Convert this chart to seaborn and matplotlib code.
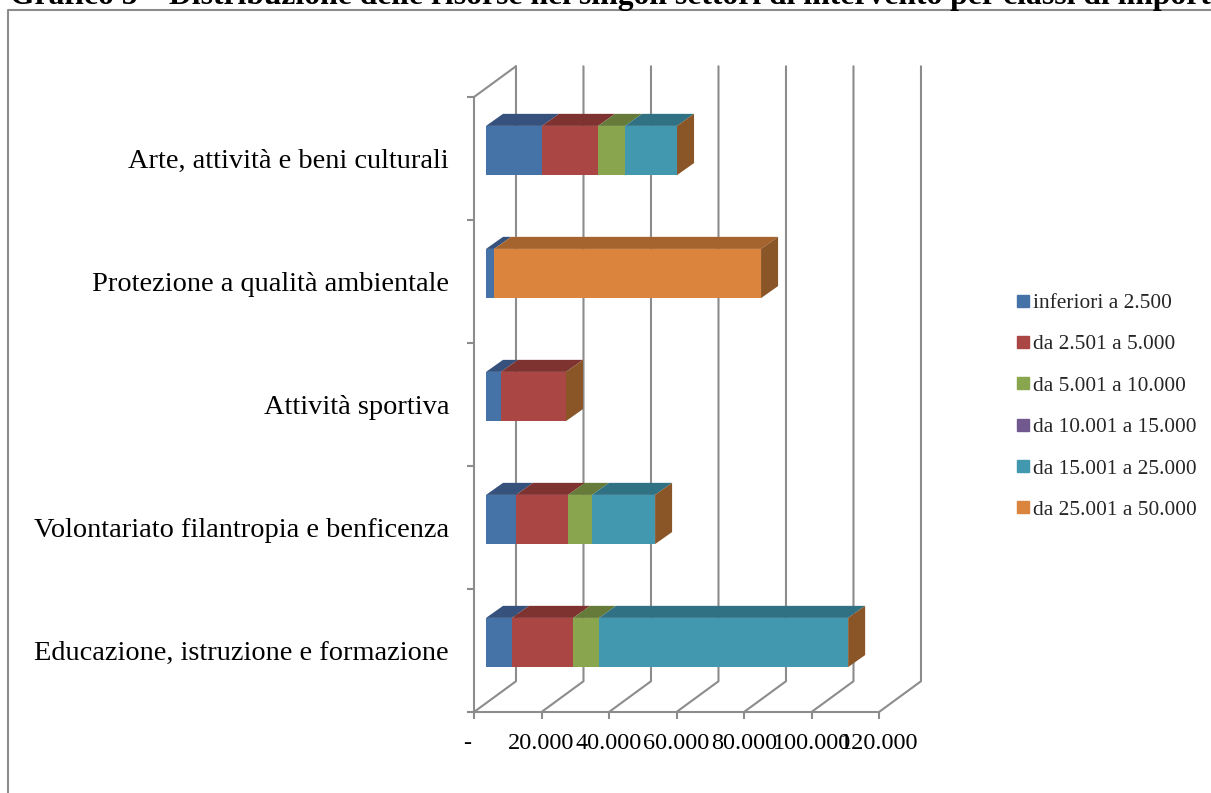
import matplotlib
matplotlib.use("Agg")
import matplotlib.pyplot as plt
from matplotlib.lines import Line2D
from matplotlib.transforms import Affine2D, ScaledTranslation
import seaborn as sns
import numpy as np
import pandas as pd

# values, in chart order from top to bottom
categories = ["Arte, attività e beni culturali", "Protezione a qualità ambientale", "Attività sportiva",
              "Volontariato filantropia e benficenza", "Educazione, istruzione e formazione"]
inferiori_2500 = [16600, 2400, 4400, 8900, 7700]
da_2501_5000 = [16600, 0, 19300, 15400, 18100]
da_5001_10000 = [8000, 0, 0, 7100, 7700]
da_10001_15000 = [0, 0, 0, 0, 0]
da_15001_25000 = [15400, 0, 0, 18700, 73800]
da_25001_50000 = [0, 79100, 0, 0, 0]

series_names = ["inferiori a 2.500", "da 2.501 a 5.000", "da 5.001 a 10.000",
                "da 10.001 a 15.000", "da 15.001 a 25.000", "da 25.001 a 50.000"]
x_ticks = [0, 20000, 40000, 60000, 80000, 100000, 120000]
x_labels = ["-", "20.000", "40.000", "60.000", "80.000", "100.000", "120.000"]

colors = ["#4572a7", "#aa4643", "#89a54e", "#71588f", "#4198af", "#db843d"]
top_colors = ["#36527c", "#7f3331", "#667a3a", "#53406b", "#307283", "#a5632e"]
side_color = "#8a5527"
grid_color = "#8c8c8c"

W, H = 1211, 793
sns.set_theme(style="white")
plt.rcParams["font.family"] = ["Liberation Serif", "DejaVu Serif"]

fig = plt.figure(figsize=(W / 100, H / 100), dpi=100)
ax = fig.add_axes([474 / W, 1 - 712 / H, (879 - 474) / W, (712 - 97) / H])

df = pd.DataFrame(np.array([inferiori_2500, da_2501_5000, da_5001_10000, da_10001_15000,
                            da_15001_25000, da_25001_50000]).T, index=categories, columns=series_names)
cum = df.cumsum(axis=1)

# stacked by overdrawing the running totals, longest first
for name, c in list(zip(series_names, colors))[::-1]:
    sns.barplot(x=cum[name].values, y=categories, color=c, width=0.4, saturation=1, ax=ax, zorder=3, linewidth=0)

ax.set_xlim(0, 120000)
ax.set_ylim(4.5, -0.5)

# fake 3d: everything is shifted in data units
wall_dx, wall_dy = 12440, -0.25
bar_dx, bar_dy = 3555, -0.065
top_dx, top_dy = 5040, -0.098

shift = Affine2D().translate(bar_dx, bar_dy) + ax.transData
for p in ax.patches:
    p.set_transform(shift)

for i in range(len(categories)):
    y_top = i - 0.2 + bar_dy
    y_bot = i + 0.2 + bar_dy
    left = 0
    for name, tc in zip(series_names, top_colors):
        right = cum[name].iloc[i]
        if right > left:
            ax.fill([left + bar_dx, right + bar_dx, right + bar_dx + top_dx, left + bar_dx + top_dx],
                    [y_top, y_top, y_top + top_dy, y_top + top_dy],
                    color=tc, lw=0, zorder=3, clip_on=False)
        left = right
    ax.fill([left + bar_dx, left + bar_dx + top_dx, left + bar_dx + top_dx, left + bar_dx],
            [y_top, y_top + top_dy, y_bot + top_dy, y_bot],
            color=side_color, lw=0, zorder=3, clip_on=False)

# back wall and floor
for t in x_ticks:
    ax.plot([t, t + wall_dx, t + wall_dx], [4.5, 4.5 + wall_dy, -0.5 + wall_dy],
            color=grid_color, lw=1.5, zorder=1, clip_on=False)
ax.plot([0, wall_dx], [-0.5, -0.5 + wall_dy], color=grid_color, lw=1.5, zorder=1, clip_on=False)

ax.set_xticks(x_ticks)
ax.set_xticklabels(x_labels, fontsize=17.5, color="black")
ax.set_yticks(range(len(categories)))
ax.set_yticklabels(categories, fontsize=20.4, color="black")
ax.set_yticks(np.arange(-0.5, 5), minor=True)
ax.tick_params(axis="y", which="major", length=0, pad=18)
ax.tick_params(axis="y", which="minor", left=True, length=5, width=1.5, color=grid_color)
ax.tick_params(axis="x", bottom=True, length=5, width=1.5, color=grid_color, pad=10)
ax.set_xlabel("")
ax.set_ylabel("")
for s in ["top", "right"]:
    ax.spines[s].set_visible(False)
for s in ["left", "bottom"]:
    ax.spines[s].set_color(grid_color)
    ax.spines[s].set_linewidth(1.5)

# the dash sits left of its tick in the original
dash = ax.get_xticklabels()[0]
dash.set_transform(dash.get_transform() + ScaledTranslation(-0.07, 0, fig.dpi_scale_trans))

handles = [Line2D([], [], marker="s", ls="", ms=9, color=c) for c in colors]
fig.legend(handles, series_names, loc="center left", bbox_to_anchor=(1012 / W, 1 - 406.5 / H), frameon=False,
           fontsize=15.4, labelspacing=1.0, handlelength=1, handletextpad=0, borderpad=0, borderaxespad=0)

# outer frame, cut by the page edge
fig.add_artist(Line2D([8 / W, 8 / W, 1], [0, 1 - 10 / H, 1 - 10 / H], color=grid_color, lw=1.5))

fig.text(10 / W, 1 - 4 / H, "Grafico 5 – Distribuzione delle risorse nei singoli settori di intervento per classi di importo",
         fontsize=22.8, fontweight="bold", color="black", ha="left", va="baseline")

fig.savefig("out.png", dpi=100)
